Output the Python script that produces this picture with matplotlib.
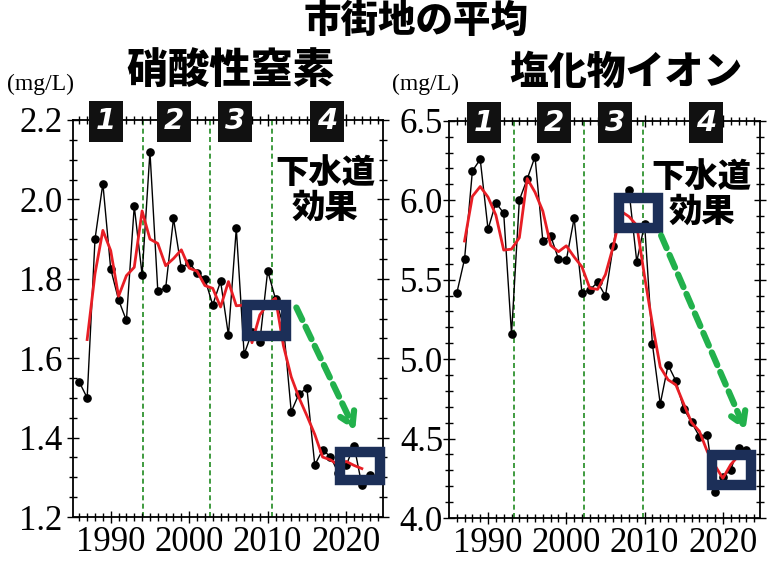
import matplotlib
matplotlib.use('Agg')
import matplotlib.pyplot as plt
from matplotlib.patches import Rectangle
from matplotlib.ticker import MultipleLocator, FixedLocator, FormatStrFormatter

# ---------------- data ----------------
years = list(range(1986, 2024))
ma_years = list(range(1987, 2023))
x_ticks = [1990, 2000, 2010, 2020]

nitrate = [1.54, 1.50, 1.90, 2.04, 1.825, 1.747, 1.695, 1.983, 1.81, 2.12,
           1.77, 1.776, 1.952, 1.826, 1.841, 1.815, 1.80, 1.734, 1.794, 1.658,
           1.927, 1.61, 1.665, 1.642, 1.82, 1.749, 1.683, 1.465, 1.511, 1.524,
           1.331, 1.369, 1.352, 1.311, 1.33, 1.38, 1.28, 1.306]
nitrate_avg = [1.647, 1.813, 1.922, 1.871, 1.756, 1.808, 1.829, 1.971, 1.900,
               1.889, 1.833, 1.851, 1.873, 1.827, 1.819, 1.783, 1.776, 1.729,
               1.793, 1.732, 1.734, 1.639, 1.709, 1.737, 1.751, 1.632, 1.553,
               1.500, 1.455, 1.408, 1.351, 1.344, 1.331, 1.340, 1.330, 1.322]

chloride = [5.414, 5.63, 6.184, 6.257, 5.817, 5.984, 5.918, 5.157, 6.001, 6.133,
            6.274, 5.743, 5.775, 5.63, 5.624, 5.886, 5.418, 5.435, 5.484, 5.397,
            5.714, 6.013, 6.064, 5.613, 5.85, 5.094, 4.718, 4.963, 4.863, 4.687,
            4.603, 4.513, 4.523, 4.161, 4.261, 4.303, 4.443, 4.429]
chloride_avg = [5.743, 6.024, 6.086, 6.019, 5.906, 5.686, 5.692, 5.764, 6.136,
                6.05, 5.931, 5.716, 5.676, 5.713, 5.643, 5.58, 5.446, 5.439,
                5.532, 5.71, 5.93, 5.897, 5.842, 5.519, 5.221, 4.95, 4.87,
                4.838, 4.718, 4.601, 4.546, 4.42, 4.33, 4.25, 4.336, 4.392]

period_labels = ['1', '2', '3', '4']
main_title = '市街地の平均'
left_title = '硝酸性窒素'
right_title = '塩化物イオン'
unit_label = '(mg/L)'
effect_label = '下水道\n効果'

# ---------------- style ----------------
CJK = ['Noto Sans CJK JP', 'DejaVu Sans']
SERIF = 'Liberation Serif'
NAVY = '#1c2f58'
RED = '#e81e25'
ARROW_GREEN = '#22b14c'
VLINE_GREEN = '#1f8a1f'

fig = plt.figure(figsize=(7.72, 5.61), dpi=100)
axL = fig.add_axes([0.0946, 0.0784, 0.4016, 0.7077])
axR = fig.add_axes([0.582, 0.0766, 0.4025, 0.7082])


def style_axes(ax, xlim, ylim, major, minor, pad):
    ax.set_xlim(*xlim)
    ax.set_ylim(*ylim)
    ax.xaxis.set_major_locator(FixedLocator(x_ticks))
    ax.xaxis.set_minor_locator(MultipleLocator(1))
    ax.yaxis.set_major_locator(MultipleLocator(major))
    ax.yaxis.set_minor_locator(MultipleLocator(minor))
    ax.yaxis.set_major_formatter(FormatStrFormatter('%.1f'))
    ax.tick_params(axis='both', which='both', top=True, right=True,
                   direction='inout', width=1.0, color='black')
    ax.tick_params(axis='both', which='major', length=9)
    ax.tick_params(axis='both', which='minor', length=6)
    ax.tick_params(axis='x', which='major', pad=2)
    ax.tick_params(axis='y', which='major', pad=pad)
    for sp in ax.spines.values():
        sp.set_linewidth(1.3)
        sp.set_color('black')
    for lab in ax.get_xticklabels() + ax.get_yticklabels():
        lab.set_fontfamily(SERIF)
        lab.set_fontsize(25)


def draw_panel(ax, values, avg, vlines, boxes, arrow, num_x, num_y, eff_xy):
    for xv in vlines:
        ax.axvline(xv, color=VLINE_GREEN, lw=1.2, ls=(0, (3, 2)), zorder=1)
    ax.plot(years, values, color='black', lw=1.0, marker='o', ms=5.2,
            zorder=3)
    ax.plot(ma_years, avg, color=RED, lw=2.0, zorder=4)
    for (x0, x1, y0, y1) in boxes:
        ax.add_patch(Rectangle((x0, y0), x1 - x0, y1 - y0, fill=False,
                               edgecolor=NAVY, lw=7.5, joinstyle='miter',
                               zorder=6, clip_on=False))
    ax.annotate('', xy=arrow[1], xytext=arrow[0],
                arrowprops=dict(arrowstyle='->,head_length=0.9,head_width=0.55',
                                color=ARROW_GREEN, lw=4.5, ls=(0, (2.2, 1.2))),
                zorder=7)
    bw, bh = 34 / 310.0, 41 / 397.0
    for lab, xc in zip(period_labels, num_x):
        ax.add_patch(Rectangle((xc - bw / 2, num_y - bh / 2), bw, bh,
                               transform=ax.transAxes, facecolor='#111111',
                               edgecolor='none', clip_on=False, zorder=8))
        ax.text(xc, num_y, lab, transform=ax.transAxes, color='white',
                fontsize=21, fontweight='heavy', style='italic',
                family='DejaVu Sans', ha='center', va='center', zorder=9,
                clip_on=False)
    ax.text(eff_xy[0], eff_xy[1], effect_label, transform=ax.transAxes,
            family=CJK, fontsize=24, fontweight='heavy', ha='center',
            va='center', linespacing=1.0, zorder=9)


draw_panel(axL, nitrate, nitrate_avg,
           vlines=[1994.15, 2002.65, 2010.5],
           boxes=[(2007.39, 2012.36, 1.655, 1.733),
                  (2019.15, 2024.25, 1.293, 1.365)],
           arrow=((2013.5, 1.734), (2021.3, 1.412)),
           num_x=[0.105, 0.326, 0.524, 0.819], num_y=0.997,
           eff_xy=(0.813, 0.824))
style_axes(axL, (1985.2, 2024.7), (1.2, 2.2), 0.2, 0.05, pad=3)

draw_panel(axR, chloride, chloride_avg,
           vlines=[1993.3, 2002.2, 2009.75],
           boxes=[(2006.75, 2011.74, 5.823, 6.012),
                  (2018.67, 2023.62, 4.209, 4.396)],
           arrow=((2011.97, 5.794), (2023.04, 4.536)),
           num_x=[0.112, 0.337, 0.533, 0.826], num_y=0.995,
           eff_xy=(0.813, 0.815))
style_axes(axR, (1985.05, 2024.75), (4.0, 6.5), 0.5, 0.1, pad=0)

# ---------------- titles ----------------
fig.text(416 / 772, 1 - 21 / 561, main_title, family=CJK, fontsize=27,
         fontweight='heavy', ha='center', va='center')
fig.text(230 / 772, 1 - 72 / 561, left_title, family=CJK, fontsize=30,
         fontweight='heavy', ha='center', va='center')
fig.text(626 / 772, 1 - 72 / 561, right_title, family=CJK, fontsize=28,
         fontweight='heavy', ha='center', va='center')
fig.text(41 / 772, 1 - 84 / 561, unit_label, family=SERIF, fontsize=17,
         ha='center', va='center')
fig.text(426 / 772, 1 - 84 / 561, unit_label, family=SERIF, fontsize=17,
         ha='center', va='center')

fig.savefig('out.png', dpi=100)
